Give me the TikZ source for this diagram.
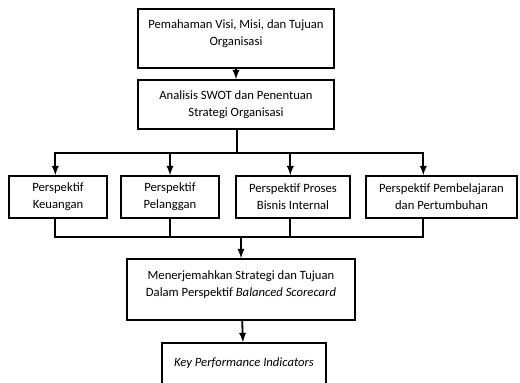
\documentclass[tikz,border=0pt]{standalone}
\usepackage{fontspec}
\setmainfont{Carlito}
\usepackage{tikz}
\usetikzlibrary{arrows, positioning, calc}

\tikzset{
  stagebox/.style={draw, line width=1pt, align=center, inner sep=2pt,
    font=\fontsize{9}{12}\selectfont},
  flowline/.style={line width=1.3pt},
  flowarrow/.style={line width=1.3pt, -latex}
}

\begin{document}
\begin{tikzpicture}[x=0.025cm, y=-0.025cm]
    \useasboundingbox (0,0) rectangle (520,382);
    % Tahap utama
    \node[stagebox, minimum width=196*0.025cm, minimum height=59*0.025cm] (visi) at (236,38.5) {Pemahaman Visi, Misi, dan Tujuan\\Organisasi\\[-3pt]\mbox{}};
    \node[stagebox, minimum width=196*0.025cm, minimum height=49*0.025cm] (swot) at (236,104.5) {Analisis SWOT dan Penentuan\\Strategi Organisasi};
    % Empat perspektif
    \node[stagebox, minimum width=98*0.025cm, minimum height=42*0.025cm] (keu) at (58,197) {Perspektif\\Keuangan};
    \node[stagebox, minimum width=98*0.025cm, minimum height=42*0.025cm] (pel) at (170,197) {Perspektif\\Pelanggan};
    \node[stagebox, minimum width=114*0.025cm, minimum height=42*0.025cm] (bis) at (293,197) {Perspektif Proses\\Bisnis Internal};
    \node[stagebox, minimum width=151*0.025cm, minimum height=42*0.025cm] (bel) at (441.5,197) {Perspektif Pembelajaran\\dan Pertumbuhan};
    % Penerjemahan dan KPI
    \node[stagebox, minimum width=228*0.025cm, minimum height=61*0.025cm] (bsc) at (241,289.5) {Menerjemahkan Strategi dan Tujuan\\Dalam Perspektif \textit{Balanced Scorecard}\\[-4pt]\mbox{}};
    \node[stagebox, minimum width=164*0.025cm, minimum height=55*0.025cm] (kpi) at (244,370.5) {\textit{Key Performance Indicators}\\\mbox{}};
    % Penghubung
    \coordinate (split) at (237,153);
    \coordinate (merge) at (241,237);
    \draw[flowarrow] (visi) -- (swot);
    \draw[flowline] (swot.south -| split) -- (split);
    \draw[flowarrow] (split) -| ($(keu.north west)+(47,0)$);
    \draw[flowarrow] (split) -| (pel.north);
    \draw[flowarrow] (split) -| ($(bis.north west)+(55,0)$);
    \draw[flowarrow] (split) -| ($(bel.north west)+(58,0)$);
    \draw[flowline] ($(keu.south west)+(47,0)$) |- (merge);
    \draw[flowline] (pel.south) -- (pel.south |- merge);
    \draw[flowline] ($(bis.south west)+(55,0)$) -- ++(0,19);
    \draw[flowline] ($(bel.south west)+(58,0)$) |- (merge);
    \draw[flowarrow] (merge) -- (bsc);
    \draw[flowarrow] (bsc) -- (kpi);
\end{tikzpicture}
\end{document}
